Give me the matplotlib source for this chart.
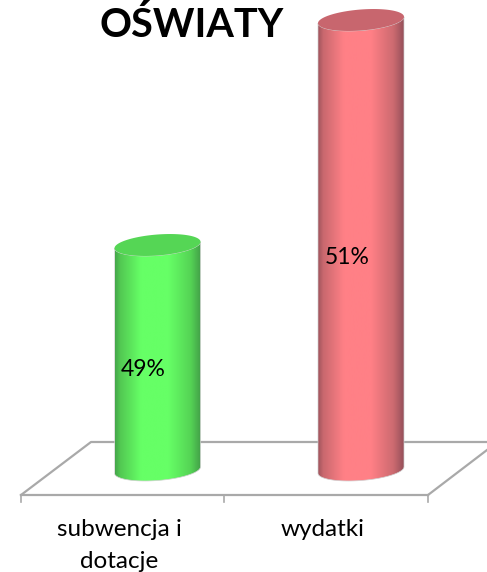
import numpy as np
import matplotlib
matplotlib.use("Agg")
import matplotlib.pyplot as plt
from matplotlib.colors import LinearSegmentedColormap
from matplotlib.patches import Polygon

plt.rcParams["font.family"] = ["Lato", "DejaVu Sans"]

categories = ["subwencja i\ndotacje", "wydatki"]
values = [49, 51]
value_labels = ["49%", "51%"]
title = "OŚWIATY"
axis_floor = 47

side_stops = [0, 0.06, 0.3, 0.62, 0.88, 1]
side_colors = [
    ["#45a54a", "#52c852", "#66ff66", "#66ff66", "#55d455", "#42a048"],
    ["#a0545c", "#c9686e", "#ff8086", "#ff8086", "#cc6a70", "#95505a"],
]
top_colors = ["#55d655", "#c8666e"]

W, H = 487, 572
fig = plt.figure(figsize=(W / 100, H / 100), dpi=100, facecolor="white")

# pixel-space layer for the floor, title and category labels
bg = fig.add_axes([0, 0, 1, 1], zorder=0)
bg.set_xlim(0, W)
bg.set_ylim(H, 0)
bg.axis("off")

GREY = "#a9a9a9"
bg.plot([21, 428], [495, 495], color=GREY, lw=1.6)
bg.plot([21, 91, 487], [495, 442, 442], color=GREY, lw=1.6)
bg.plot([428, 487], [495, 450], color=GREY, lw=1.6)
for tx in (21, 224, 428):
    bg.plot([tx, tx], [495, 502], color=GREY, lw=1.2)

bg.text(192, 25, title, ha="center", va="center", fontsize=28.5, fontweight="bold", color="black")
for i, lab in enumerate(categories):
    parts = lab.split("\n")
    for k, part in enumerate(parts):
        bg.text(119.5 + 203.5 * i, 529 + 32 * k, part, ha="center", va="center", fontsize=17.5)

# value layer: y axis starts at 47%, which is why the bars look so different
ax = fig.add_axes([0, 0, 1, 1], zorder=1)
ax.patch.set_alpha(0)
ax.axis("off")
x_step, y_step = 203.5, 112.5
xlim = (-157.5 / x_step, (W - 157.5) / x_step)
ylim = (axis_floor - (H - 470) / y_step, axis_floor + 470 / y_step)

half_w = 43 / x_step
ell_b = 10.5 / y_step
ell_skew = 3.2 / y_step


def ellipse(cx, cy, t):
    return cx + half_w * np.cos(t), cy - ell_b * np.sin(t) + ell_skew * np.cos(t)


for i, v in enumerate(values):
    # body: straight sides and the lower half of the base ellipse
    t = np.linspace(np.pi, 0, 50)
    bx, by = ellipse(i, axis_floor, t)
    tx, ty = ellipse(i, v, t[::-1])
    verts = np.column_stack([np.r_[bx, tx], np.r_[by, ty]])
    body = Polygon(verts, closed=True, transform=ax.transData, fc="none", ec="#d0d0d0", lw=0.5, zorder=2)
    ax.add_patch(body)
    cmap = LinearSegmentedColormap.from_list("c%d" % i, list(zip(side_stops, side_colors[i])))
    im = ax.imshow(np.linspace(0, 1, 256)[None, :], cmap=cmap, aspect="auto", zorder=1.5,
                   extent=(i - half_w, i + half_w, axis_floor - 0.2, v + 0.2))
    im.set_clip_path(body)

    # top cap
    t = np.linspace(0, 2 * np.pi, 100)
    cx, cy = ellipse(i, v, t)
    ax.fill(cx, cy, fc=top_colors[i], ec="none", zorder=3)

    ax.text(i - 14 / x_step, (v + axis_floor) / 2 - 12.5 / y_step, value_labels[i],
            ha="center", va="center", fontsize=16.5, color="black", zorder=4)

ax.set_xlim(*xlim)
ax.set_ylim(*ylim)

fig.savefig("out.png", dpi=100)
